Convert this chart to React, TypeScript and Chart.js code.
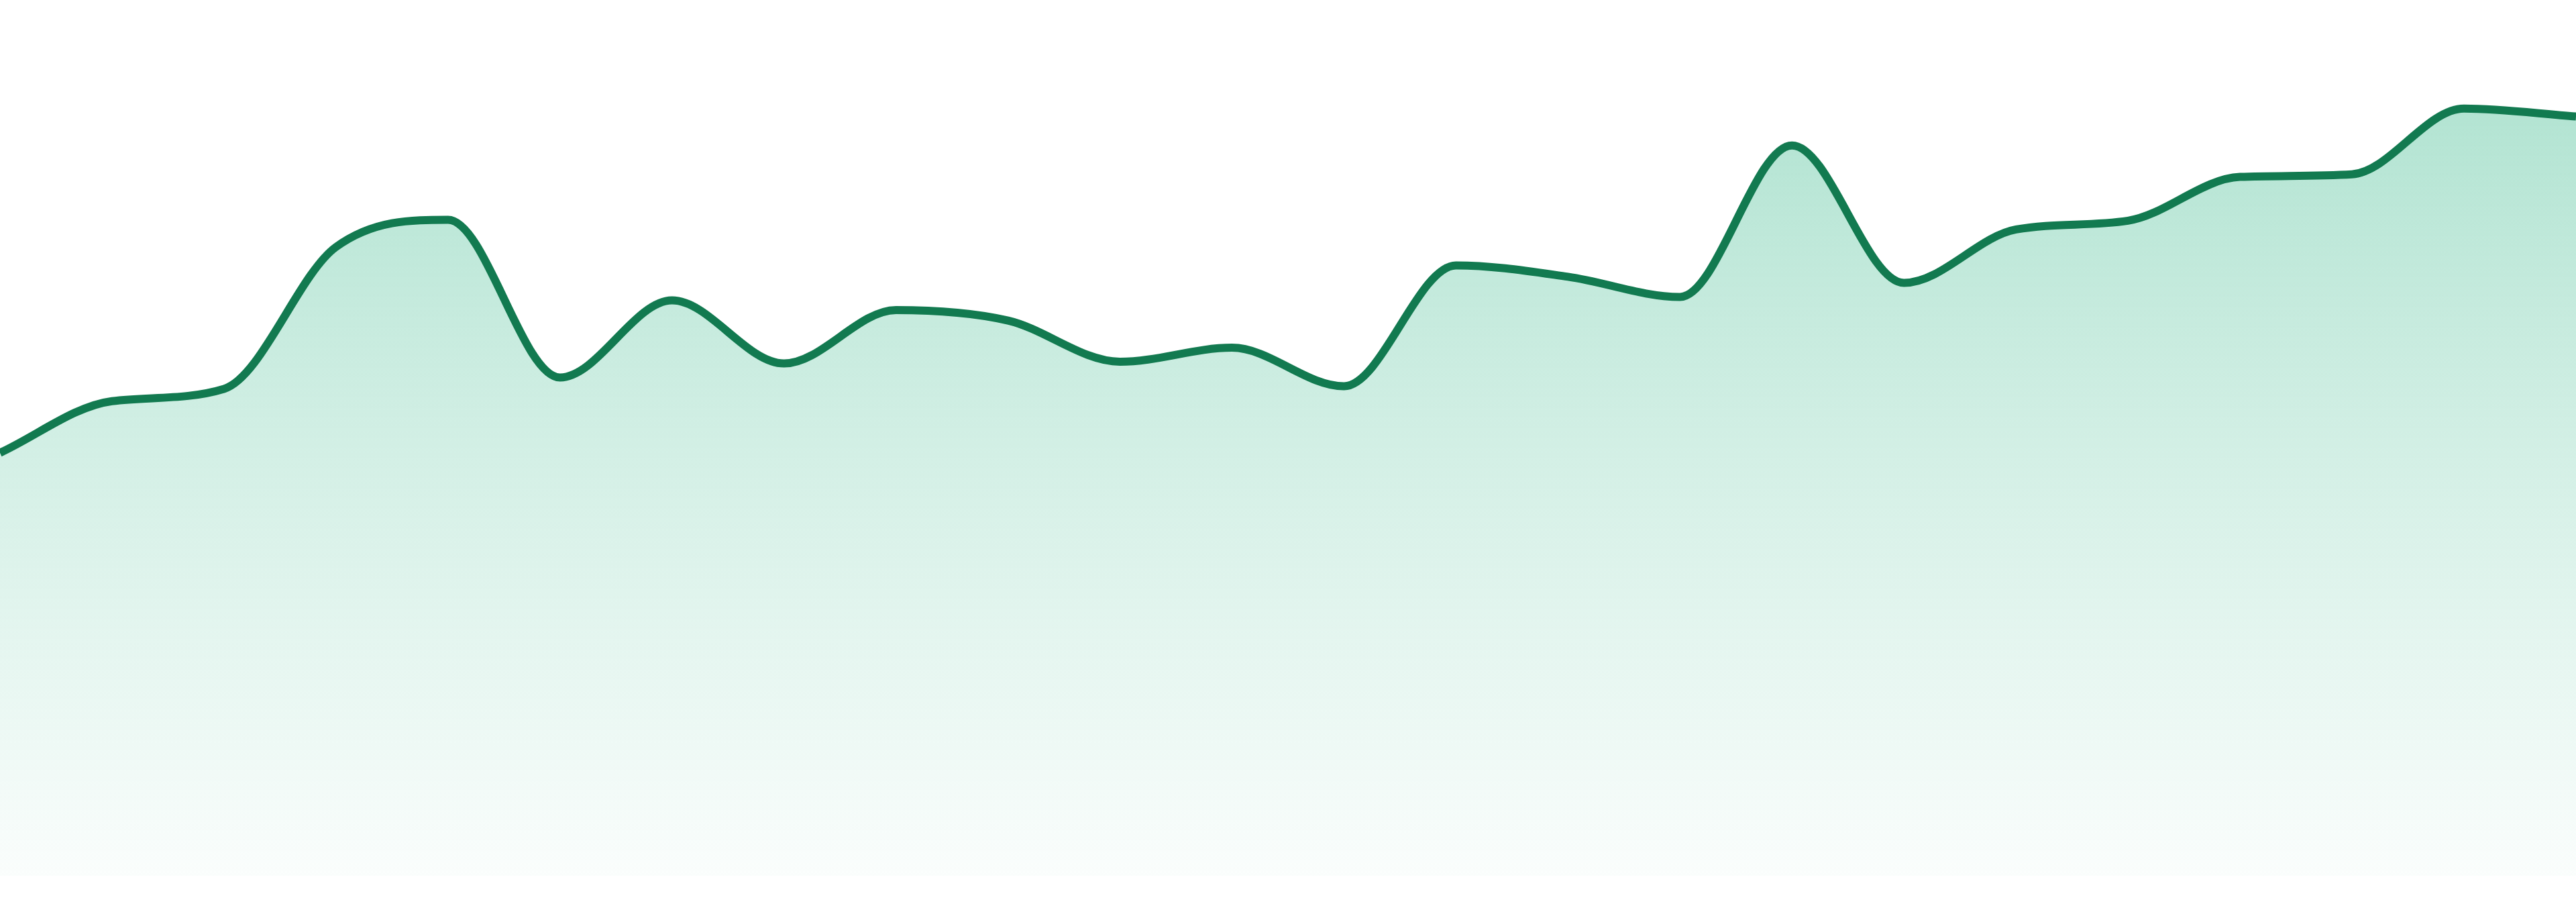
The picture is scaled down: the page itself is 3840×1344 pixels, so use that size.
import { useEffect, useRef } from "react";
import { Chart, registerables } from "chart.js";

Chart.register(...registerables);

// 24 evenly spaced samples, no axes shown
const labels = [
  "1", "2", "3", "4", "5", "6", "7", "8", "9", "10", "11", "12",
  "13", "14", "15", "16", "17", "18", "19", "20", "21", "22", "23", "24",
];

const values = [
  48.3, 54.2, 55.6, 71.8, 74.9, 56.9, 65.7, 58.5, 64.6, 63.4, 58.7, 60.3,
  55.9, 69.7, 68.4, 66.1, 83.4, 67.7, 73.8, 74.8, 79.8, 80.1, 87.6, 86.7,
];

const LINE = "#127a50";

export default function App() {
  const chartRef = useRef<HTMLCanvasElement | null>(null);

  useEffect(() => {
    const canvas = chartRef.current;
    if (!canvas) return;

    const chart = new Chart(canvas, {
      type: "line",
      data: {
        labels,
        datasets: [
          {
            data: values,
            borderColor: LINE,
            borderWidth: 12,
            cubicInterpolationMode: "monotone",
            pointRadius: 0,
            fill: "start",
            backgroundColor: (ctx: any) => {
              const { ctx: c, chartArea } = ctx.chart;
              if (!chartArea) return "rgba(16, 170, 115, 0.2)";
              const g = c.createLinearGradient(0, chartArea.top, 0, chartArea.bottom);
              g.addColorStop(0, "rgba(16, 170, 115, 0.36)");
              g.addColorStop(1, "rgba(16, 170, 115, 0.02)");
              return g;
            },
          },
        ],
      },
      options: {
        responsive: true,
        maintainAspectRatio: false,
        animation: false,
        layout: { padding: { top: 0, left: 0, right: 0, bottom: 39 } },
        plugins: {
          legend: { display: false },
          tooltip: { enabled: false },
        },
        scales: {
          x: { display: false, offset: false },
          y: { display: false, min: 0, max: 100 },
        },
      },
    });

    return () => {
      chart.destroy();
    };
  }, []);

  return (
    <div style={{ position: "fixed", inset: 0, background: "#fff" }}>
      <canvas ref={chartRef} />
    </div>
  );
}
